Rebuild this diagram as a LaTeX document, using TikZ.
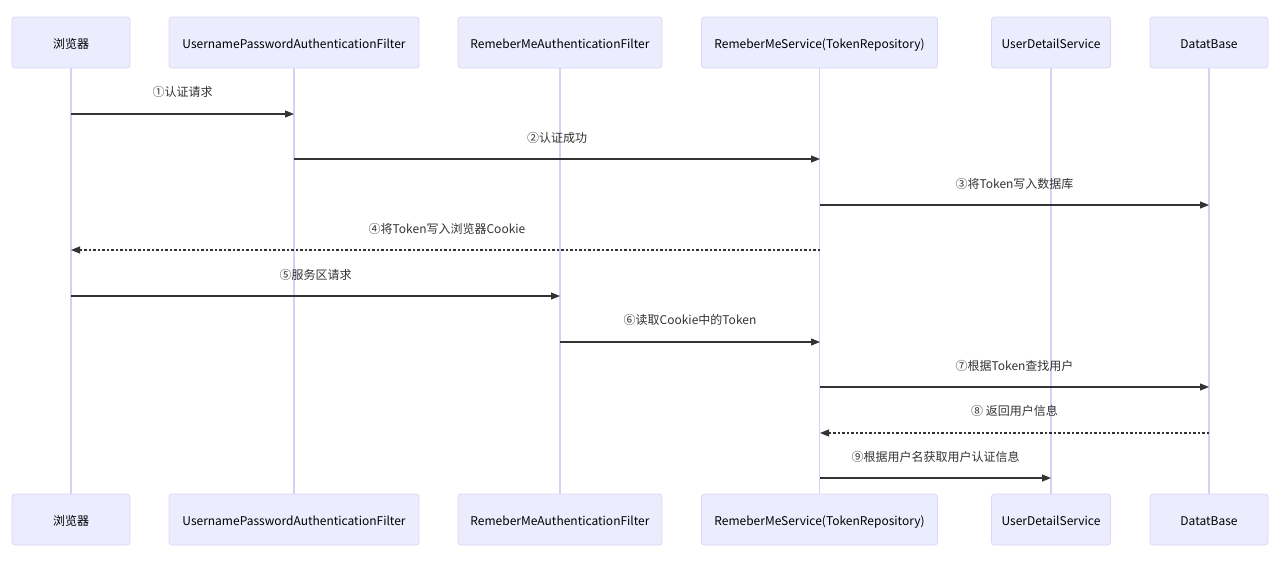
\documentclass[tikz,border=0pt]{standalone}
\usepackage{fontspec}
\setmainfont{Noto Sans CJK SC}
\usetikzlibrary{arrows.meta}
\definecolor{actfill}{HTML}{ECECFF}
\definecolor{actline}{HTML}{DDD6F6}
\definecolor{lifeline}{HTML}{D8D0F4}
\definecolor{msg}{HTML}{333333}
\begin{document}
\begin{tikzpicture}[x=1pt,y=-1pt,
  actor/.style={draw=actline,fill=actfill,rounded corners=3pt,line width=0.8pt,minimum height=51pt,inner sep=0pt,text height=13pt,text depth=2pt,font=\fontsize{12}{15}\selectfont,text=black},
  life/.style={draw=lifeline,line width=1.4pt},
  msgline/.style={draw=msg,line width=1.1pt,-{Triangle[length=9pt,width=7pt]}},
  reply/.style={msgline,dash pattern=on 2.5pt off 2pt},
  lbl/.style={font=\fontsize{12}{15}\selectfont,text=msg,inner sep=0pt}]
\useasboundingbox (0,0) rectangle (1284,562);
\fill[white] (0,0) rectangle (1284,562);
% lifeline x: 71, 294, 560, 820, 1051, 1209
\foreach \n/\x/\w/\t in {1/71/118/浏览器,2/294/250/UsernamePasswordAuthenticationFilter,3/560/204/RemeberMeAuthenticationFilter,4/819.5/236/RemeberMeService(TokenRepository),5/1051/119/UserDetailService,6/1209/118/DatatBase}{
  \draw[life] (\x,68) -- (\x,494);
  \node[actor,minimum width=\w pt] (a\n) at (\x,42.5) {\t};
  \node[actor,minimum width=\w pt] (b\n) at (\x,519.5) {\t};
}
% message anchor coordinates
\coordinate (p1s) at (71,114);   \coordinate (p1e) at (294,114);
\coordinate (p2s) at (294,159);  \coordinate (p2e) at (820,159);
\coordinate (p3s) at (820,205);  \coordinate (p3e) at (1209,205);
\coordinate (p4s) at (820,250);  \coordinate (p4e) at (71,250);
\coordinate (p5s) at (71,296);   \coordinate (p5e) at (560,296);
\coordinate (p6s) at (560,342);  \coordinate (p6e) at (820,342);
\coordinate (p7s) at (820,387);  \coordinate (p7e) at (1209,387);
\coordinate (p8s) at (1209,433); \coordinate (p8e) at (820,433);
\coordinate (p9s) at (820,478);  \coordinate (p9e) at (1051,478);
\draw[msgline] (p1s) -- (p1e);
\draw[msgline] (p2s) -- (p2e);
\draw[msgline] (p3s) -- (p3e);
\draw[reply]   (p4s) -- (p4e);
\draw[msgline] (p5s) -- (p5e);
\draw[msgline] (p6s) -- (p6e);
\draw[msgline] (p7s) -- (p7e);
\draw[reply]   (p8s) -- (p8e);
\draw[msgline] (p9s) -- (p9e);
\node[lbl] (l1) at (182.5,91.5) {①认证请求};
\node[lbl] (l2) at (557,137.5) {②认证成功};
\node[lbl] (l3) at (1014.5,183.5) {③将Token写入数据库};
\node[lbl] (l4) at (447,228.5) {④将Token写入浏览器Cookie};
\node[lbl] (l5) at (315.5,274.5) {⑤服务区请求};
\node[lbl] (l6) at (690,319.5) {⑥读取Cookie中的Token};
\node[lbl] (l7) at (1014.5,365.5) {⑦根据Token查找用户};
\node[lbl] (l8) at (1014.5,410.5) {⑧ 返回用户信息};
\node[lbl] (l9) at (935.5,456.5) {⑨根据用户名获取用户认证信息};
\end{tikzpicture}
\end{document}
